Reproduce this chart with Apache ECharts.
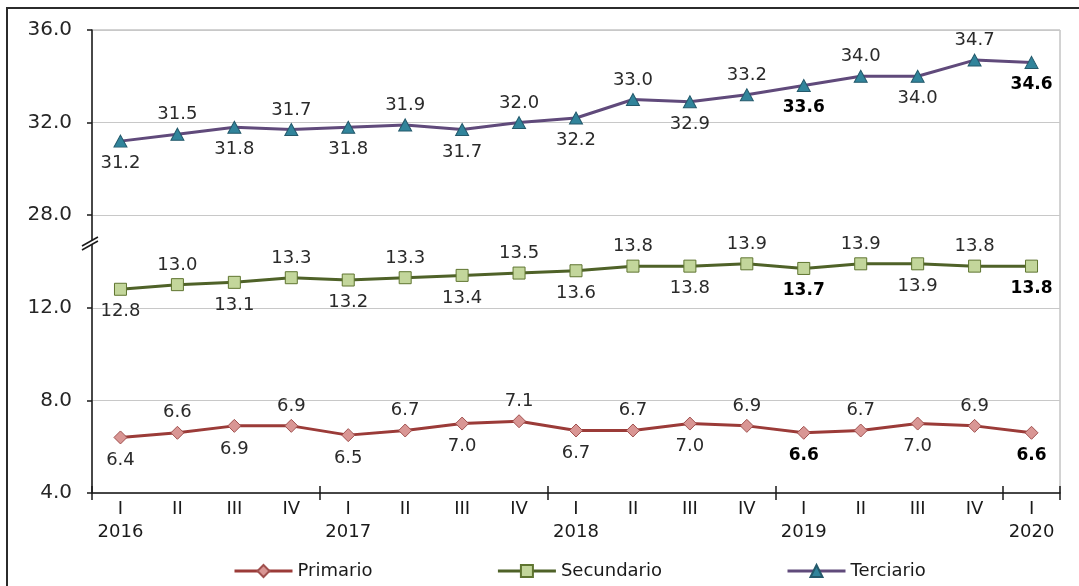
<!DOCTYPE html>
<html>
<head>
<meta charset="utf-8">
<script src="https://cdn.jsdelivr.net/npm/echarts@6/dist/echarts.min.js"></script>
<style>
  html, body { margin: 0; padding: 0; background: #fff; }
  #chart { width: 1079px; height: 586px; }
</style>
</head>
<body>
<div id="chart"></div>
<script>
// quarters, year shown under each first quarter
const quarters = ["I", "II", "III", "IV", "I", "II", "III", "IV", "I", "II", "III", "IV", "I", "II", "III", "IV", "I"];
const years = ["2016", "", "", "", "2017", "", "", "", "2018", "", "", "", "2019", "", "", "", "2020"];

const primario   = [6.4, 6.6, 6.9, 6.9, 6.5, 6.7, 7.0, 7.1, 6.7, 6.7, 7.0, 6.9, 6.6, 6.7, 7.0, 6.9, 6.6];
const secundario = [12.8, 13.0, 13.1, 13.3, 13.2, 13.3, 13.4, 13.5, 13.6, 13.8, 13.8, 13.9, 13.7, 13.9, 13.9, 13.8, 13.8];
const terciario  = [31.2, 31.5, 31.8, 31.7, 31.8, 31.9, 31.7, 32.0, 32.2, 33.0, 32.9, 33.2, 33.6, 34.0, 34.0, 34.7, 34.6];

// highlighted (bold) labels
const boldIdx = [12, 16];

// broken y axis: upper part (28..36) is drawn shifted down by 12
const yTicks = [4, 8, 12, 28, 32, 36];
const BREAK_SHIFT = 12;

const FONT = "DejaVu Sans";
const chart = echarts.init(document.getElementById("chart"));

const axisCats = quarters.map((q, i) => (years[i] ? q + "\n" + years[i] : q));

const mkData = (values, shift) =>
  values.map((v, i) => {
    const bold = boldIdx.includes(i);
    const below = i % 2 === 0;
    return {
      value: +(v - shift).toFixed(2),
      label: {
        position: below ? "bottom" : "top",
        distance: below ? 7 : 4,
        fontWeight: bold ? "bold" : "normal",
        fontSize: bold ? 17 : 18,
        color: bold ? "#000" : "#2a2a2a",
        formatter: v.toFixed(1),
      },
    };
  });

const mkSeries = (name, values, shift, color, symbol, size, fill, border) => ({
  name,
  type: "line",
  data: mkData(values, shift),
  symbol,
  symbolSize: size,
  lineStyle: { color, width: 3 },
  itemStyle: { color: fill, borderColor: border, borderWidth: 1 },
  label: { show: true, fontFamily: FONT },
  emphasis: { disabled: true },
  z: 3,
});

// ticks only between years
const yearTick = (idx) => idx % 4 === 0 && idx < quarters.length;

chart.setOption({
  animation: false,
  textStyle: { fontFamily: FONT },
  grid: {
    left: 92, right: 19, top: 30, bottom: 93,
    show: true, borderColor: "#a6a6a6", borderWidth: 1,
  },
  legend: {
    top: 557, left: 228,
    itemWidth: 58, itemHeight: 15, itemGap: 124,
    lineStyle: { width: 3 },
    textStyle: { fontFamily: FONT, fontSize: 18, color: "#1a1a1a" },
    data: ["Primario", "Secundario", "Terciario"],
  },
  xAxis: [
    {
      type: "category",
      data: axisCats,
      boundaryGap: true,
      axisLine: { lineStyle: { color: "#1a1a1a", width: 1.5 } },
      axisTick: { show: true, length: 7, interval: yearTick, lineStyle: { color: "#1a1a1a", width: 1.5 } },
      axisLabel: { color: "#1a1a1a", fontSize: 18, lineHeight: 23, margin: 5, interval: 0 },
      splitLine: { show: false },
    },
    {
      type: "category",
      data: axisCats,
      position: "bottom",
      boundaryGap: true,
      axisLine: { show: false },
      axisTick: { show: true, inside: true, length: 7, interval: yearTick, lineStyle: { color: "#1a1a1a", width: 1.5 } },
      axisLabel: { show: false },
    },
  ],
  yAxis: {
    type: "value",
    min: yTicks[0],
    max: yTicks[yTicks.length - 1] - BREAK_SHIFT,
    interval: 4,
    axisLine: { show: true, lineStyle: { color: "#1a1a1a", width: 1.5 } },
    axisTick: { show: true, length: 5, lineStyle: { color: "#1a1a1a", width: 1.5 } },
    axisLabel: {
      color: "#262626", fontSize: 20, margin: 20,
      formatter: (v) => (v > yTicks[2] ? v + BREAK_SHIFT : v).toFixed(1),
    },
    splitLine: { lineStyle: { color: "#c8c8c8", width: 1 } },
  },
  series: [
    mkSeries("Primario", primario, 0, "#9b3b38", "diamond", [13, 13], "#d99694", "#a0504e"),
    mkSeries("Secundario", secundario, 0, "#4f6228", "rect", [12, 12], "#c3d69b", "#5f7530"),
    mkSeries("Terciario", terciario, BREAK_SHIFT, "#604a7b", "triangle", [13, 12], "#31849b", "#24596b"),
  ],
});

// axis break mark and outer frame
const bx = chart.convertToPixel({ xAxisIndex: 0 }, 0) - 28.5;
const by = chart.convertToPixel({ yAxisIndex: 0 }, 14.8);
chart.setOption({
  graphic: [
    {
      type: "rect",
      shape: { x: 7, y: 8, width: 1200, height: 700 },
      style: { fill: "none", stroke: "#2b2b2b", lineWidth: 2 },
      silent: true,
    },
    {
      type: "polygon",
      shape: { points: [[bx - 10, by + 3], [bx + 6, by - 6], [bx + 6, by - 2], [bx - 10, by + 7]] },
      style: { fill: "#fff", stroke: "none" },
      z: 100,
    },
    {
      type: "polyline",
      shape: { points: [[bx - 10, by + 3], [bx + 6, by - 6]] },
      style: { stroke: "#1a1a1a", lineWidth: 1.5 },
      z: 101,
    },
    {
      type: "polyline",
      shape: { points: [[bx - 10, by + 7], [bx + 6, by - 2]] },
      style: { stroke: "#1a1a1a", lineWidth: 1.5 },
      z: 101,
    },
  ],
});
</script>
</body>
</html>
